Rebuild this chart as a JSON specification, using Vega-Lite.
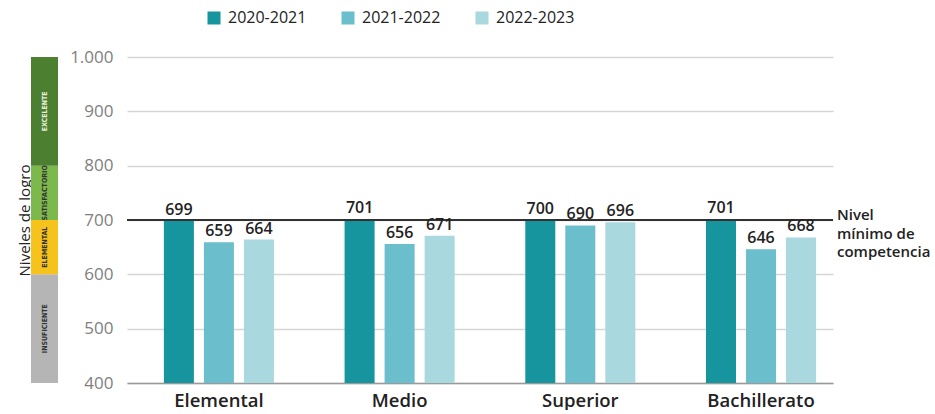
{
  "$schema": "https://vega.github.io/schema/vega-lite/v6.json",
  "padding": {"left": 17, "top": 10, "right": 0, "bottom": 0},
  "config": {
    "locale": {"number": {"decimal": ",", "thousands": ".", "grouping": [3], "currency": ["$", ""]}},
    "view": {"stroke": null},
    "font": "Open Sans"
  },
  "spacing": 69,
  "bounds": "flush",
  "resolve": {"scale": {"color": "independent", "y": "independent"}},
  "hconcat": [
    {
      "width": 27,
      "height": 326,
      "data": {"values": [
        {"nivel": "INSUFICIENTE", "desde": 400, "hasta": 600},
        {"nivel": "ELEMENTAL", "desde": 600, "hasta": 700},
        {"nivel": "SATISFACTORIO", "desde": 700, "hasta": 800},
        {"nivel": "EXCELENTE", "desde": 800, "hasta": 1000}
      ]},
      "layer": [
        {
          "mark": {"type": "rect"},
          "encoding": {
            "y": {"field": "desde", "type": "quantitative", "scale": {"domain": [400, 1000], "nice": false, "zero": false},
              "axis": {"title": "Niveles de logro", "labels": false, "ticks": false, "domain": false, "grid": false, "titleFontSize": 15, "titleColor": "#222", "titlePadding": -1, "titleFontWeight": "normal"}},
            "y2": {"field": "hasta"},
            "color": {"field": "nivel", "type": "nominal", "legend": null,
              "scale": {"domain": ["INSUFICIENTE", "ELEMENTAL", "SATISFACTORIO", "EXCELENTE"], "range": ["#b5b5b5", "#f6c21c", "#7cb84b", "#4d7f31"]}}
          }
        },
        {
          "transform": [{"fold": ["desde", "hasta"]}],
          "mark": {"type": "text", "angle": 270, "fontSize": 7, "font": "DejaVu Sans Condensed, sans-serif", "fontWeight": "bold"},
          "encoding": {
            "y": {"aggregate": "mean", "field": "value", "type": "quantitative"},
            "text": {"field": "nivel"},
            "color": {"condition": {"test": "datum.nivel === 'EXCELENTE'", "value": "#e6eedb"}, "value": "#333333"}
          }
        }
      ]
    },
    {
      "width": 706,
      "height": 326,
      "data": {"values": [
        {"nivel": "Elemental", "periodo": "2020-2021", "puntaje": 699},
        {"nivel": "Elemental", "periodo": "2021-2022", "puntaje": 659},
        {"nivel": "Elemental", "periodo": "2022-2023", "puntaje": 664},
        {"nivel": "Medio", "periodo": "2020-2021", "puntaje": 701},
        {"nivel": "Medio", "periodo": "2021-2022", "puntaje": 656},
        {"nivel": "Medio", "periodo": "2022-2023", "puntaje": 671},
        {"nivel": "Superior", "periodo": "2020-2021", "puntaje": 700},
        {"nivel": "Superior", "periodo": "2021-2022", "puntaje": 690},
        {"nivel": "Superior", "periodo": "2022-2023", "puntaje": 696},
        {"nivel": "Bachillerato", "periodo": "2020-2021", "puntaje": 701},
        {"nivel": "Bachillerato", "periodo": "2021-2022", "puntaje": 646},
        {"nivel": "Bachillerato", "periodo": "2022-2023", "puntaje": 668}
      ]},
      "encoding": {
        "x": {"field": "nivel", "type": "nominal", "sort": ["Elemental", "Medio", "Superior", "Bachillerato"],
          "scale": {"paddingInner": 0.391, "paddingOuter": 0.149, "align": 0.685},
          "axis": {"title": null, "labelAngle": 0, "ticks": false, "domainColor": "#9a9a9a", "domainWidth": 1.5, "labelFontSize": 18.5, "labelColor": "#222", "labelPadding": 8, "labelFontWeight": 600}},
        "xOffset": {"field": "periodo", "type": "nominal", "scale": {"paddingInner": 0.25, "paddingOuter": 0}}
      },
      "layer": [
        {
          "mark": {"type": "bar"},
          "encoding": {
            "y": {"field": "puntaje", "type": "quantitative", "scale": {"domain": [400, 1000], "nice": false, "zero": false},
              "axis": {"values": [400, 500, 600, 700, 800, 900, 1000], "format": ",d", "title": null, "ticks": false, "domain": false, "gridColor": "#d5d5d5", "gridWidth": 1.5, "labelFontSize": 17, "labelColor": "#808080", "labelPadding": 14}},
            "y2": {"datum": 400},
            "color": {"field": "periodo", "type": "nominal",
              "scale": {"domain": ["2020-2021", "2021-2022", "2022-2023"], "range": ["#17959f", "#6bbfcc", "#a9d8df"]},
              "legend": {"title": null, "orient": "none", "legendX": 79, "legendY": -47, "direction": "horizontal", "symbolType": "square", "symbolSize": 169, "symbolStrokeWidth": 0, "labelFontSize": 16, "labelColor": "#222", "labelOffset": 6, "columnPadding": 33}}
          }
        },
        {
          "mark": {"type": "rule", "color": "#333333", "strokeWidth": 1.5},
          "encoding": {"y": {"datum": 700}, "x": null, "xOffset": null}
        },
        {
          "mark": {"type": "text", "baseline": "alphabetic", "dy": -6, "fontSize": 16, "fontWeight": 600, "color": "#222"},
          "encoding": {
            "y": {"field": "puntaje", "type": "quantitative"},
            "text": {"field": "puntaje", "type": "quantitative"}
          }
        },
        {
          "data": {"values": [{"nota": "Nivel\nmínimo de\ncompetencia", "nivel": "Bachillerato"}]},
          "mark": {"type": "text", "align": "left", "baseline": "middle", "dx": 76, "dy": -5, "fontSize": 15, "fontWeight": 600, "color": "#222", "lineBreak": "\n", "lineHeight": 18.5},
          "encoding": {
            "x": {"field": "nivel", "type": "nominal"},
            "xOffset": null,
            "y": {"datum": 700},
            "text": {"field": "nota"}
          }
        }
      ]
    }
  ]
}
